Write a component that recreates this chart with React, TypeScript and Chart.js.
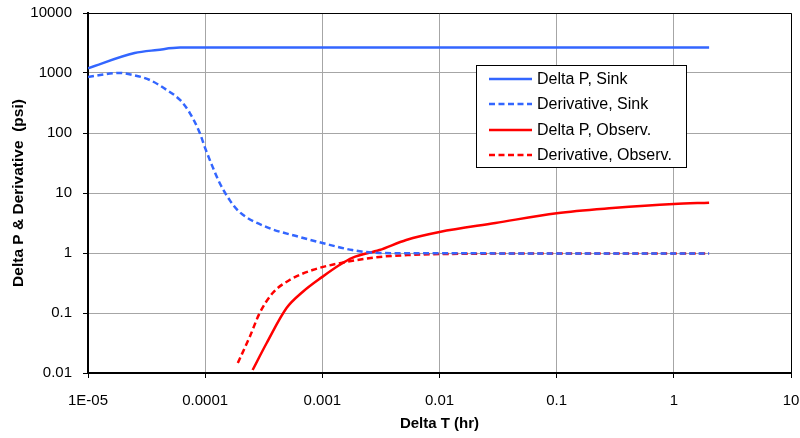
import React, { useEffect, useRef } from "react";
import { Chart, registerables } from "chart.js";

Chart.register(...registerables);

// ---- Data ----
const sinkPX = [1e-5, 2.5e-5, 3.9e-5, 6.1e-5, 1e-4, 1e-3, 1e-2, 0.1, 1, 2];
const sinkPY = [1200, 2150, 2420, 2650, 2650, 2650, 2650, 2650, 2650, 2650];

const sinkDX = [1e-5, 1.87e-5, 2.42e-5, 3.37e-5, 4.7e-5, 6.1e-5, 7.4e-5, 9e-5, 1e-4, 1.16e-4, 1.33e-4, 1.62e-4, 1.97e-4, 3.35e-4, 6.4e-4, 1e-3, 1.8e-3, 3.07e-3, 6e-3, 0.01, 0.1, 1, 2];
const sinkDY = [860, 1000, 926, 764, 521, 355, 215, 100, 56, 27, 14.7, 7.6, 4.8, 2.7, 1.85, 1.47, 1.12, 1.0, 0.99, 0.99, 0.98, 0.98, 0.98];

const obsPX = [2.54e-4, 3.35e-4, 4.95e-4, 6.78e-4, 1e-3, 1.4e-3, 1.8e-3, 3.07e-3, 5.2e-3, 0.01, 0.03, 0.1, 0.3, 1, 2];
const obsPY = [0.0112, 0.0316, 0.121, 0.224, 0.4, 0.63, 0.83, 1.12, 1.65, 2.24, 3.16, 4.6, 5.6, 6.56, 6.9];

const obsDX = [1.9e-4, 2.4e-4, 2.92e-4, 3.77e-4, 5.26e-4, 8.25e-4, 1.6e-3, 3.07e-3, 5.86e-3, 0.01, 0.1, 1, 2];
const obsDY = [0.0147, 0.04, 0.1, 0.215, 0.355, 0.52, 0.71, 0.86, 0.93, 0.96, 0.98, 0.98, 0.98];

const xTickValues = [1e-5, 1e-4, 1e-3, 1e-2, 1e-1, 1, 10];
const xTickLabels = ["1E-05", "0.0001", "0.001", "0.01", "0.1", "1", "10"];
const yTickValues = [0.01, 0.1, 1, 10, 100, 1000, 10000];
const yTickLabels = ["0.01", "0.1", "1", "10", "100", "1000", "10000"];

const seriesNames = ["Delta P, Sink", "Derivative, Sink", "Delta P, Observ.", "Derivative, Observ."];

const BLUE = "#3366FF";
const RED = "#FF0000";
const FONT = '"Liberation Sans", Arial, sans-serif';
const DASH = [6, 3.5];
const LW = 2.5;

const zip = (xs: number[], ys: number[]) => xs.map((x, i) => ({ x, y: ys[i] }));

const frameAndLegend = {
  id: "frameAndLegend",
  afterDraw(chart: any) {
    const { ctx, chartArea } = chart;
    ctx.save();
    // top and right frame
    ctx.strokeStyle = "#000";
    ctx.lineWidth = 1;
    ctx.beginPath();
    ctx.moveTo(chartArea.left, chartArea.top + 0.5);
    ctx.lineTo(chartArea.right + 0.5, chartArea.top + 0.5);
    ctx.lineTo(chartArea.right + 0.5, chartArea.bottom);
    ctx.stroke();

    // legend box
    const bx = 476, by = 65, bw = 210, bh = 102;
    ctx.fillStyle = "#fff";
    ctx.fillRect(bx, by, bw, bh);
    ctx.strokeStyle = "#000";
    ctx.lineWidth = 1;
    ctx.strokeRect(bx + 0.5, by + 0.5, bw, bh);
    const rows = [79, 104, 130, 155];
    const ds = chart.data.datasets;
    ctx.font = `16px ${FONT}`;
    ctx.textBaseline = "middle";
    ctx.textAlign = "left";
    seriesNames.forEach((name, i) => {
      const d = ds[i];
      ctx.strokeStyle = d.borderColor;
      ctx.lineWidth = LW;
      ctx.setLineDash(d.borderDash || []);
      ctx.beginPath();
      ctx.moveTo(489, rows[i]);
      ctx.lineTo(532, rows[i]);
      ctx.stroke();
      ctx.setLineDash([]);
      ctx.fillStyle = "#000";
      ctx.fillText(name, 537, rows[i] + 1);
    });
    ctx.restore();
  },
};

export default function App() {
  const ref = useRef<HTMLCanvasElement | null>(null);
  useEffect(() => {
    document.body.style.margin = "0";
    const canvas = ref.current!;
    const common = { borderWidth: LW, pointRadius: 0, cubicInterpolationMode: "monotone", fill: false };
    const chart = new Chart(canvas, {
      type: "line",
      data: {
        datasets: [
          { label: seriesNames[0], data: zip(sinkPX, sinkPY), borderColor: BLUE, ...common },
          { label: seriesNames[1], data: zip(sinkDX, sinkDY), borderColor: BLUE, borderDash: DASH, ...common },
          { label: seriesNames[2], data: zip(obsPX, obsPY), borderColor: RED, ...common },
          { label: seriesNames[3], data: zip(obsDX, obsDY), borderColor: RED, borderDash: DASH, ...common },
        ],
      },
      options: {
        animation: false,
        responsive: false,
        devicePixelRatio: 1,
        layout: { padding: { top: 13, right: 9, left: 0, bottom: 0 } },
        plugins: { legend: { display: false }, tooltip: { enabled: false } },
        scales: {
          x: {
            type: "logarithmic",
            min: 1e-5,
            max: 10,
            afterBuildTicks: (s: any) => { s.ticks = xTickValues.map((v) => ({ value: v, major: true })); },
            afterFit: (s: any) => { s.height = 65; s.paddingLeft = 0; s.paddingRight = 0; },
            ticks: {
              autoSkip: false,
              maxRotation: 0,
              padding: 14,
              color: "#000",
              font: { family: FONT, size: 15 },
              callback: (v: any) => { const i = xTickValues.indexOf(Number(v)); return i >= 0 ? xTickLabels[i] : ""; },
            },
            grid: { color: "#a6a6a6", lineWidth: 1, tickLength: 5, tickColor: "#000", drawTicks: true },
            border: { color: "#000", width: 2 },
            title: { display: true, text: "Delta T (hr)", color: "#000", font: { family: FONT, size: 15, weight: "bold" }, padding: { top: 0, bottom: 5 } },
          },
          y: {
            type: "logarithmic",
            min: 0.01,
            max: 10000,
            afterBuildTicks: (s: any) => { s.ticks = yTickValues.map((v) => ({ value: v, major: true })); },
            afterFit: (s: any) => { s.width = 88; s.paddingTop = 0; s.paddingBottom = 0; },
            ticks: {
              autoSkip: false,
              padding: 11,
              color: "#000",
              font: { family: FONT, size: 15 },
              callback: (v: any) => { const i = yTickValues.indexOf(Number(v)); return i >= 0 ? yTickLabels[i] : ""; },
            },
            grid: { color: "#a6a6a6", lineWidth: 1, tickLength: 5, tickColor: "#000", drawTicks: true },
            border: { color: "#000", width: 2 },
            title: { display: true, text: "Delta P & Derivative  (psi)", color: "#000", font: { family: FONT, size: 15.5, weight: "bold" }, padding: { top: 9, bottom: 0 } },
          },
        },
      },
      plugins: [frameAndLegend],
    } as any);
    return () => chart.destroy();
  }, []);
  return (
    <div style={{ width: 800, height: 438 }}>
      <canvas ref={ref} width={800} height={438} style={{ display: "block" }} />
    </div>
  );
}
